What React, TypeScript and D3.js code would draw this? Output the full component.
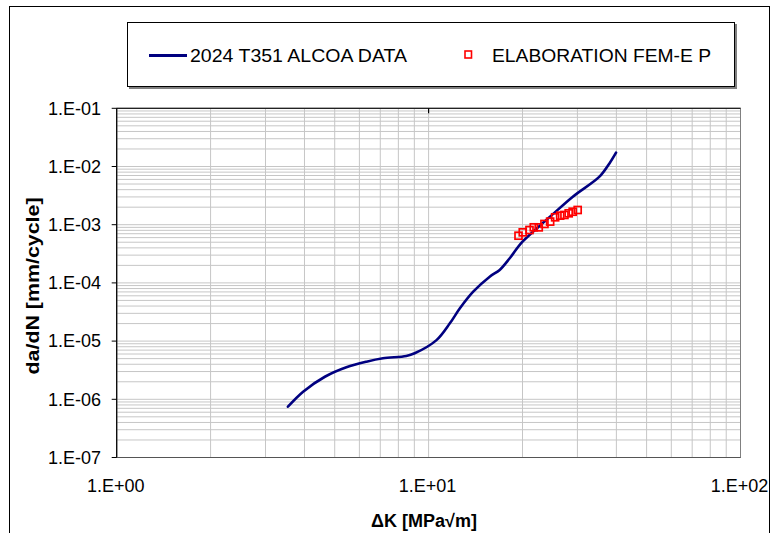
import React from "react";
import * as d3 from "d3";

const alcoaK = [3.54, 3.96, 4.65, 5.45, 6.32, 7.14, 8.48, 9.02, 10.6, 11.7, 12.6, 13.9, 15.7, 16.9, 18.2, 20.0, 24.4, 29.0, 35.3, 38.0, 39.9];
const alcoaRate = [7.46e-7, 1.35e-6, 2.44e-6, 3.55e-6, 4.43e-6, 5.06e-6, 5.55e-6, 6.17e-6, 1.04e-5, 2.02e-5, 3.66e-5, 7.06e-5, 1.28e-4, 1.67e-4, 2.65e-4, 5.1e-4, 1.34e-3, 3.03e-3, 6.68e-3, 1.13e-2, 1.73e-2];

const femK = [19.42, 20.04, 21.06, 21.74, 22.55, 23.52, 24.53, 25.45, 26.41, 27.26, 28.13, 28.97, 30.06];
const femRate = [6.47e-4, 7.39e-4, 8.11e-4, 9.02e-4, 9.0e-4, 1.03e-3, 1.13e-3, 1.34e-3, 1.43e-3, 1.47e-3, 1.57e-3, 1.67e-3, 1.79e-3];

const xTicks = [1, 10, 100];
const xTickLabels = ["1.E+00", "1.E+01", "1.E+02"];
const yTicks = [1e-1, 1e-2, 1e-3, 1e-4, 1e-5, 1e-6, 1e-7];
const yTickLabels = ["1.E-01", "1.E-02", "1.E-03", "1.E-04", "1.E-05", "1.E-06", "1.E-07"];

const seriesNames = ["2024 T351 ALCOA DATA", "ELABORATION FEM-E P"];
const xTitle = "ΔK [MPa√m]";
const yTitle = "da/dN [mm/cycle]";

const FONT = "'Liberation Sans', Arial, Helvetica, sans-serif";

export default function App() {
  const W = 773, H = 533;
  const L = 116.7, R = 740.5, T = 108.3, B = 457.5;
  const x = d3.scaleLog().domain([1, 100]).range([L, R]);
  const y = d3.scaleLog().domain([1e-7, 1e-1]).range([B, T]);

  const xGrid: number[] = [];
  for (let dec = 1; dec < 100; dec *= 10) for (let m = 1; m <= 9; m++) xGrid.push(dec * m);
  xGrid.push(100);
  const yGrid: number[] = [];
  for (let e = -7; e < -1; e++) for (let m = 1; m <= 9; m++) yGrid.push(m * Math.pow(10, e));
  yGrid.push(1e-1);

  const line = d3
    .line<number>()
    .x((_, i) => x(alcoaK[i]))
    .y((_, i) => y(alcoaRate[i]))
    .curve(d3.curveCatmullRom.alpha(0.5));

  const sq = 7;

  return (
    <svg width={W} height={H} style={{ position: "absolute", left: 0, top: 0, background: "#fff" }} fontFamily={FONT}>
      <rect x={0} y={0} width={W} height={H} fill="#fff" />
      <rect x={9.5} y={6.5} width={760} height={540} fill="none" stroke="#000" strokeWidth={1} />

      {/* grid */}
      {xGrid.map((v, i) => (
        <line key={"xg" + i} x1={x(v)} x2={x(v)} y1={T} y2={B} stroke="#c6c6c6" strokeWidth={1} />
      ))}
      {yGrid.map((v, i) => (
        <line key={"yg" + i} x1={L} x2={R} y1={y(v)} y2={y(v)} stroke="#c6c6c6" strokeWidth={1} />
      ))}

      {/* plot border */}
      <rect x={L} y={T} width={R - L} height={B - T} fill="none" stroke="#808080" strokeWidth={1} />
      <line x1={L} x2={R} y1={T} y2={T} stroke="#222" strokeWidth={1.2} />
      <line x1={L} x2={L} y1={T} y2={B} stroke="#000" strokeWidth={1.2} />
      <line x1={L} x2={R} y1={B} y2={B} stroke="#555" strokeWidth={1.2} />
      <line x1={x(10)} x2={x(10)} y1={T} y2={T + 5} stroke="#000" strokeWidth={1.2} />

      {/* y ticks */}
      {yTicks.map((v, i) => (
        <g key={"yt" + i}>
          <line x1={L - 5} x2={L} y1={y(v)} y2={y(v)} stroke="#000" strokeWidth={1} />
          <text x={101} y={y(v)} dy="0.35em" textAnchor="end" fontSize={18} fill="#000">
            {yTickLabels[i]}
          </text>
        </g>
      ))}
      {/* x ticks */}
      {xTicks.map((v, i) => (
        <text key={"xt" + i} x={x(v) - 1} y={492} textAnchor="middle" fontSize={18} fill="#000">
          {xTickLabels[i]}
        </text>
      ))}

      {/* titles */}
      <text x={424} y={527} textAnchor="middle" fontSize={18} fontWeight="bold" fill="#000">
        {xTitle}
      </text>
      <text
        transform={`translate(39,286) rotate(-90)`}
        textAnchor="middle"
        fontSize={18}
        fontWeight="bold"
        fill="#000"
        textLength={177}
        lengthAdjust="spacingAndGlyphs"
      >
        {yTitle}
      </text>

      {/* data */}
      <path d={line(alcoaK) || ""} fill="none" stroke="#000080" strokeWidth={2.6} strokeLinejoin="round" strokeLinecap="round" />
      {femK.map((k, i) => (
        <rect
          key={"fem" + i}
          x={x(k) - sq / 2}
          y={y(femRate[i]) - sq / 2}
          width={sq}
          height={sq}
          fill="none"
          stroke="#ff0000"
          strokeWidth={1.7}
        />
      ))}

      {/* legend */}
      <rect x={129} y={24} width={608} height={65} fill="#000" opacity={0.5} />
      <rect x={127.5} y={22.5} width={607} height={64} fill="#fff" stroke="#000" strokeWidth={1} />
      <line x1={149} x2={187} y1={55.5} y2={55.5} stroke="#000080" strokeWidth={3} />
      <text x={190} y={61.5} fontSize={18} fill="#000" textLength={217} lengthAdjust="spacingAndGlyphs">
        {seriesNames[0]}
      </text>
      <rect x={465} y={51} width={6.5} height={7} fill="none" stroke="#ff0000" strokeWidth={1.6} />
      <text x={492} y={61.5} fontSize={18} fill="#000" textLength={219} lengthAdjust="spacingAndGlyphs">
        {seriesNames[1]}
      </text>
    </svg>
  );
}
